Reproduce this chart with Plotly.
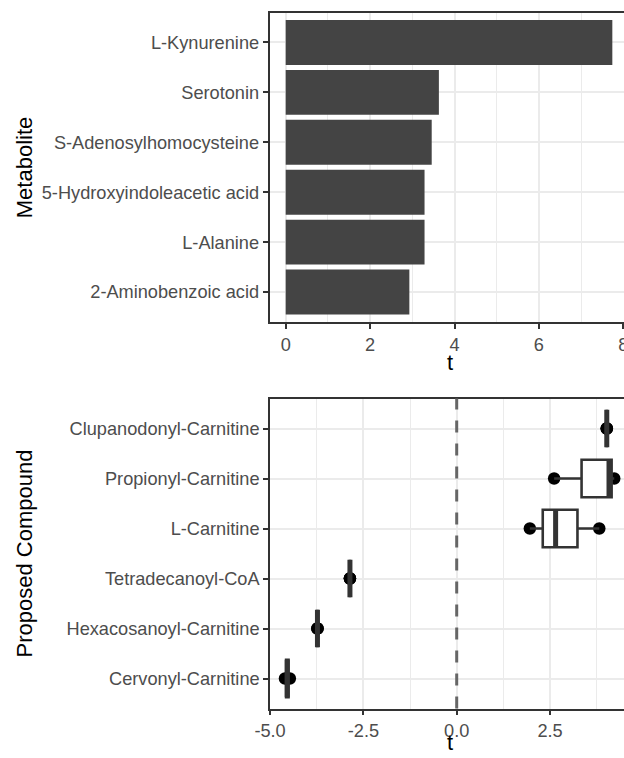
import numpy as np
import plotly.graph_objects as go

# ---------------- data ----------------
metabolites = ["L-Kynurenine", "Serotonin", "S-Adenosylhomocysteine",
               "5-Hydroxyindoleacetic acid", "L-Alanine", "2-Aminobenzoic acid"]
metabolite_t = [7.74, 3.63, 3.46, 3.29, 3.29, 2.93]

compounds = ["Clupanodonyl-Carnitine", "Propionyl-Carnitine", "L-Carnitine",
             "Tetradecanoyl-CoA", "Hexacosanoyl-Carnitine", "Cervonyl-Carnitine"]
compound_t = [
    [4.02, 4.02, 4.02],
    [2.61, 4.08, 4.22],
    [1.96, 2.65, 3.82],
    [-2.86, -2.86, -2.86],
    [-3.73, -3.73, -3.73],
    [-4.60, -4.54, -4.47],
]

top_ticks = [0, 2, 4, 6, 8]
bottom_ticks = [-5.0, -2.5, 0.0, 2.5]
bottom_ticklabels = ["-5.0", "-2.5", "0.0", "2.5"]

# ---------------- layout geometry ----------------
W, H = 624, 758
FONT = "Liberation Sans, Arial, Helvetica, sans-serif"
TICK_COLOR = "#4D4D4D"
LINE_COLOR = "#333333"
GRID = "#EBEBEB"
CLEAR = "rgba(0,0,0,0)"

def py(px):  # pixel from top -> paper fraction
    return 1 - px / H

def pxx(px):
    return px / W

fig = go.Figure()

# top panel: bars
fig.add_trace(go.Bar(
    x=metabolite_t, y=metabolites, orientation="h", width=0.9,
    marker=dict(color="#444444", line=dict(width=0)),
    xaxis="x", yaxis="y", showlegend=False,
))

pos = list(range(len(compounds)))

# bottom panel: points first (drawn beneath the boxes, as in ggplot)
for i, vals in enumerate(compound_t):
    fig.add_trace(go.Box(
        x=vals, y=[pos[i]] * len(vals), orientation="h", width=0.75,
        fillcolor=CLEAR, line=dict(color=CLEAR, width=0),
        whiskerwidth=0, boxpoints="all", jitter=0, pointpos=0,
        marker=dict(color="black", size=12.5),
        xaxis="x2", yaxis="y2", showlegend=False, hoverinfo="skip",
    ))

# boxes
for i, vals in enumerate(compound_t):
    fig.add_trace(go.Box(
        x=vals, y=[pos[i]] * len(vals), orientation="h", width=0.75,
        fillcolor="white", line=dict(color=LINE_COLOR, width=2.6),
        whiskerwidth=0, boxpoints=False, quartilemethod="inclusive",
        xaxis="x2", yaxis="y2", showlegend=False,
    ))

# thick medians (ggplot fatten)
mx, my = [], []
for i, vals in enumerate(compound_t):
    m = float(np.median(vals))
    mx += [m, m, None]
    my += [pos[i] - 0.375, pos[i] + 0.375, None]
fig.add_trace(go.Scatter(
    x=mx, y=my, mode="lines", line=dict(color=LINE_COLOR, width=5),
    xaxis="x2", yaxis="y2", showlegend=False, hoverinfo="skip",
))

# pixel layout
top_l, top_t, top_b = 269.5, 12.5, 322.0
bot_l, bot_t, bot_b = 270.0, 398.5, 708.5
top_x0 = 285.7
top_ppu = 42.2
bot_x0 = 456.7
bot_ppu = 37.33

top_range = [(top_l - top_x0) / top_ppu, (W - top_x0) / top_ppu]
bot_range = [(bot_l - bot_x0) / bot_ppu, (W - bot_x0) / bot_ppu]

common_axis = dict(
    showline=True, linecolor=LINE_COLOR, linewidth=1.5,
    ticks="outside", ticklen=5, tickwidth=1.5, tickcolor=LINE_COLOR,
    tickfont=dict(family=FONT, size=18.2, color=TICK_COLOR),
    showgrid=True, gridcolor=GRID, gridwidth=2, zeroline=False,
    ticklabeloverflow="allow",
)

fig.update_layout(
    width=W, height=H, template="none",
    paper_bgcolor="white", plot_bgcolor="white",
    margin=dict(l=0, r=0, t=0, b=0),
    showlegend=False, boxmode="overlay",
    xaxis=dict(common_axis, domain=[pxx(top_l), 1], anchor="y",
               range=top_range, tickvals=top_ticks, mirror=True,
               minor=dict(dtick=1, tick0=0, showgrid=True, gridcolor=GRID,
                          gridwidth=1, ticks="")),
    yaxis=dict(common_axis, domain=[py(top_b), py(top_t)], anchor="x",
               type="category", categoryorder="array", categoryarray=metabolites,
               range=[5.6, -0.6]),
    xaxis2=dict(common_axis, domain=[pxx(bot_l), 1], anchor="y2",
                range=bot_range, tickvals=bottom_ticks,
                ticktext=bottom_ticklabels, mirror=True,
                minor=dict(dtick=1.25, tick0=-5, showgrid=True, gridcolor=GRID,
                           gridwidth=1, ticks="")),
    yaxis2=dict(common_axis, domain=[py(bot_b), py(bot_t)], anchor="x2",
                range=[5.6, -0.6], tickvals=pos, ticktext=compounds),
    shapes=[dict(type="line", xref="x2", yref="y2 domain", x0=0, x1=0,
                 y0=0, y1=1, line=dict(color="#666666", width=3,
                                       dash="12px,11px"))],
    annotations=[
        dict(text="Metabolite", x=pxx(24), y=py((top_t + top_b) / 2),
             xref="paper", yref="paper", textangle=-90, showarrow=False,
             xanchor="center", yanchor="middle",
             font=dict(family=FONT, size=22, color="black")),
        dict(text="Proposed Compound", x=pxx(24), y=py((bot_t + bot_b) / 2),
             xref="paper", yref="paper", textangle=-90, showarrow=False,
             xanchor="center", yanchor="middle",
             font=dict(family=FONT, size=22, color="black")),
        dict(text="t", x=pxx(450), y=py(363), xref="paper", yref="paper",
             showarrow=False, xanchor="center", yanchor="middle",
             font=dict(family=FONT, size=22, color="black")),
        dict(text="t", x=pxx(450), y=py(742), xref="paper", yref="paper",
             showarrow=False, xanchor="center", yanchor="middle",
             font=dict(family=FONT, size=22, color="black")),
    ],
)

fig.write_html(
    "out.html",
    config={"displayModeBar": False},
    post_script="document.body.style.margin='0';document.body.style.overflow='hidden';",
)
